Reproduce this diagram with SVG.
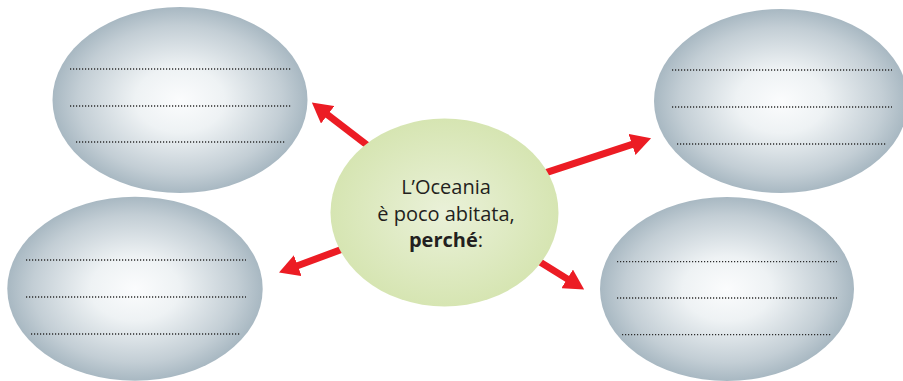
<svg xmlns="http://www.w3.org/2000/svg" width="903" height="381" viewBox="0 0 903 381">
<style>
.bubble{fill:url(#grayGrad)}
.dots{stroke:#2b2b2b;stroke-width:1.3;stroke-dasharray:1.2 1.8;fill:none}
.arrow{stroke:#ec1c24;stroke-width:7;fill:none;marker-end:url(#head)}
.label{font-family:"Open Sans","Noto Sans",sans-serif;font-size:20px;fill:#231f20;text-anchor:middle}
.b{font-weight:bold}
</style>
<defs>
<radialGradient id="grayGrad" cx="0.5" cy="0.5" r="0.5">
<stop offset="0" stop-color="#fbfcfd"/>
<stop offset="0.35" stop-color="#eef2f4"/>
<stop offset="0.8" stop-color="#c3ced5"/>
<stop offset="1" stop-color="#a8b8c2"/>
</radialGradient>
<radialGradient id="greenGrad" cx="0.5" cy="0.5" r="0.5">
<stop offset="0" stop-color="#eaf1d9"/>
<stop offset="1" stop-color="#d6e5b2"/>
</radialGradient>
<marker id="head" viewBox="0 -11 20 22" refX="1" refY="0" markerWidth="20" markerHeight="22" markerUnits="userSpaceOnUse" orient="auto">
<path d="M0,-11 L20,0 L0,11 z" fill="#ec1c24"/>
</marker>
</defs>
<rect width="903" height="381" fill="#ffffff"/>
<g id="connectors">
<line class="arrow" x1="380" y1="155" x2="326.9" y2="114.2"/>
<line class="arrow" x1="350" y1="246.3" x2="296.8" y2="266"/>
<line class="arrow" x1="540" y1="174.6" x2="633" y2="144.2"/>
<line class="arrow" x1="530" y1="255.8" x2="568" y2="279.4"/>
</g>
<g id="node-top-left">
<ellipse class="bubble" cx="180" cy="100" rx="127.5" ry="93"/>
<line class="dots" x1="70" y1="69" x2="291" y2="69"/>
<line class="dots" x1="70" y1="106" x2="291" y2="106"/>
<line class="dots" x1="76" y1="142" x2="286" y2="142"/>
</g>
<g id="node-bottom-left">
<ellipse class="bubble" cx="135" cy="288.7" rx="127.7" ry="92"/>
<line class="dots" x1="26" y1="260" x2="246" y2="260"/>
<line class="dots" x1="26" y1="297" x2="246" y2="297"/>
<line class="dots" x1="31" y1="334" x2="240" y2="334"/>
</g>
<g id="node-top-right">
<ellipse class="bubble" cx="781" cy="101" rx="127" ry="92"/>
<line class="dots" x1="672" y1="70" x2="892" y2="70"/>
<line class="dots" x1="672" y1="107" x2="892" y2="107"/>
<line class="dots" x1="677" y1="144" x2="887" y2="144"/>
</g>
<g id="node-bottom-right">
<ellipse class="bubble" cx="727" cy="289" rx="127" ry="92"/>
<line class="dots" x1="617" y1="261.7" x2="837" y2="261.7"/>
<line class="dots" x1="617" y1="298" x2="837" y2="298"/>
<line class="dots" x1="622" y1="334.7" x2="832" y2="334.7"/>
</g>
<g id="node-center">
<ellipse cx="444.5" cy="212.5" rx="114" ry="94" fill="url(#greenGrad)"/>
<text class="label" x="446" y="194">L’Oceania</text>
<text class="label" x="446" y="220.5">è poco abitata,</text>
<text class="label" x="446" y="247"><tspan class="b">perché</tspan>:</text>
</g>
</svg>
